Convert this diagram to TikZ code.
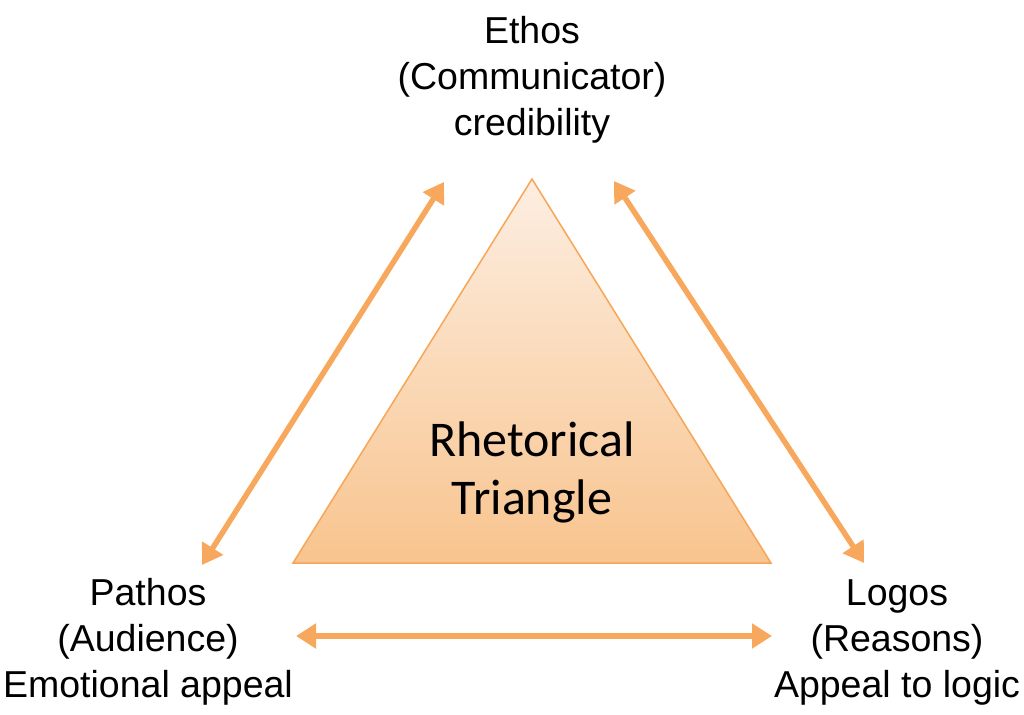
\documentclass[tikz,border=0pt]{standalone}
\usepackage{fontspec}
\setmainfont{Liberation Sans}
\newfontfamily\calfont{Carlito}
\usetikzlibrary{arrows.meta}
\definecolor{arr}{HTML}{F7A85C}
\definecolor{tritop}{HTML}{FDEEE2}
\definecolor{tribot}{HTML}{F8C48E}
\definecolor{triline}{HTML}{F6A656}
\tikzset{
  lbl/.style={align=center, font=\fontsize{37.5}{46}\selectfont, inner sep=0pt},
  link/.style={arr, line width=5.5pt, {Triangle[length=20pt,width=24pt]}-{Triangle[length=20pt,width=24pt]}}
}
\begin{document}
\begin{tikzpicture}[x=1pt,y=-1pt]
\useasboundingbox (0,0) rectangle (1024,714);
\shade[top color=tritop, bottom color=tribot, draw=triline, line width=1.5pt, line join=miter]
  (532,179) -- (771,563) -- (293,563) -- cycle;
\node[align=center, font=\calfont\fontsize{50}{58}\selectfont, inner sep=0pt] (rt) at (532,472) {Rhetorical\\Triangle};
\node[lbl] (ethos) at (532,80) {Ethos\\(Communicator)\\credibility};
\node[lbl] (pathos) at (148,642) {Pathos\\(Audience)\\Emotional appeal};
\node[lbl] (logos) at (897,642) {Logos\\(Reasons)\\Appeal to logic};
\coordinate (a1) at (444,182);
\coordinate (a2) at (202,565);
\coordinate (b1) at (614,181);
\coordinate (b2) at (864,563);
\coordinate (c1) at (296,636);
\coordinate (c2) at (772,636);
\draw[link] (a1) -- (a2);
\draw[link] (b1) -- (b2);
\draw[link] (c1) -- (c2);
\end{tikzpicture}
\end{document}
